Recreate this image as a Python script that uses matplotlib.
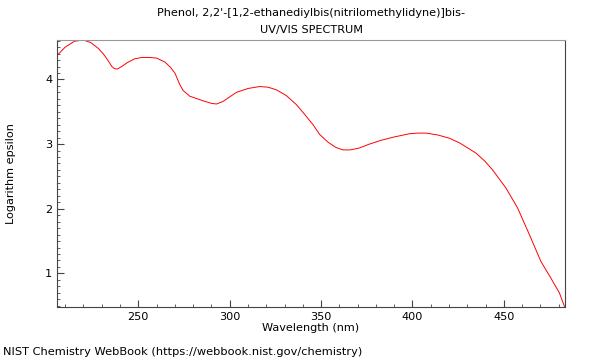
import matplotlib
matplotlib.use("Agg")
import matplotlib.pyplot as plt
from matplotlib.ticker import MultipleLocator

wavelength = [205.5, 210, 215, 219.9, 224, 228.1, 231, 233.5, 235.5, 236.8, 238.5, 240.9, 244, 248.1,
              252, 256.3, 260, 264.5, 267.5, 270, 272.7, 274.5, 278.2, 285.4, 290, 292.8,
              296.4, 300, 303.7, 310, 316.4, 321, 325.5, 331, 336.5, 341, 345.6, 349.2,
              353.8, 358, 362, 366, 371, 376.5, 383, 390, 398.4, 403, 407.5, 414, 420.3,
              425.7, 430.3, 434.8, 439.5, 443.9, 451.2, 457.6, 464, 470.4, 475.5, 480.4,
              483.2]
log_eps = [4.37, 4.50, 4.59, 4.61, 4.57, 4.48, 4.39, 4.29, 4.20, 4.17, 4.16, 4.20, 4.26, 4.32,
           4.34, 4.34, 4.33, 4.27, 4.19, 4.10, 3.92, 3.83, 3.74, 3.67, 3.63, 3.62,
           3.66, 3.73, 3.80, 3.86, 3.89, 3.88, 3.84, 3.75, 3.61, 3.46, 3.30, 3.15,
           3.03, 2.95, 2.91, 2.91, 2.94, 3.00, 3.06, 3.11, 3.16, 3.17, 3.17, 3.14, 3.09,
           3.02, 2.94, 2.86, 2.74, 2.60, 2.32, 2.01, 1.60, 1.18, 0.94, 0.70,
           0.49]

FS = 8.1
fig = plt.figure(figsize=(6, 3.6), dpi=100)
ax = fig.add_axes([57/600, 1-307/360, (565-57)/600, (307-40)/360])
ax.plot(wavelength, log_eps, color="red", lw=0.7)
ax.set_xlim(205.5, 483.5)
ax.set_ylim(0.48, 4.61)
ax.xaxis.set_major_locator(MultipleLocator(50))
ax.xaxis.set_minor_locator(MultipleLocator(10))
ax.yaxis.set_major_locator(MultipleLocator(1))
ax.yaxis.set_minor_locator(MultipleLocator(0.1))
ax.tick_params(direction="in", which="both", labelsize=FS, color="#444444")
ax.tick_params(which="major", length=5)
ax.tick_params(which="minor", length=2.5)
for s in ["left", "bottom", "right"]:
    ax.spines[s].set_color("#444444")
ax.spines["top"].set_color("#999999")
ax.set_xlabel("Wavelength (nm)", fontsize=FS, labelpad=1)
ax.set_ylabel("Logarithm epsilon", fontsize=FS)
ax.yaxis.set_label_coords(-0.081, 0.5)
cx = 311/600
fig.text(cx, 1-13.5/360, "Phenol, 2,2'-[1,2-ethanediylbis(nitrilomethylidyne)]bis-", ha="center", va="center", fontsize=FS)
fig.text(cx, 1-30/360, "UV/VIS SPECTRUM", ha="center", va="center", fontsize=FS)
fig.text(3/600, 1-352/360, "NIST Chemistry WebBook (https://webbook.nist.gov/chemistry)", ha="left", va="center", fontsize=8.2)
fig.savefig("out.png", dpi=100)
